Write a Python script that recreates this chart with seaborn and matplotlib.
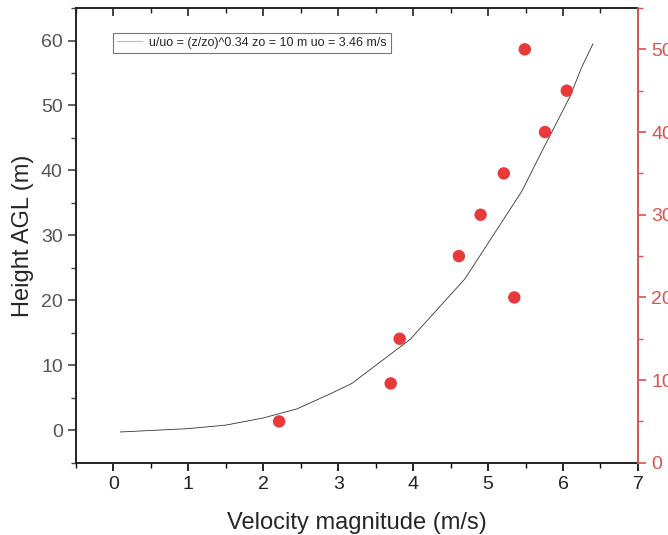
import matplotlib
matplotlib.use("Agg")
import matplotlib.pyplot as plt
import seaborn as sns
import pandas as pd
from matplotlib.ticker import MultipleLocator

# Power-law profile curve (velocity, height)
curve_velocity = [0.09, 1.00, 1.50, 2.00, 2.45, 2.89, 3.18, 3.96, 4.69, 5.00, 5.45, 5.69, 6.09, 6.25, 6.40]
curve_height = [-0.26, 0.26, 0.80, 1.90, 3.30, 5.60, 7.20, 14.0, 23.3, 28.8, 36.8, 42.3, 51.3, 55.9, 59.5]

# Measured points (right axis)
meas_velocity = [2.21, 3.70, 3.82, 5.35, 4.61, 4.90, 5.21, 5.76, 6.05, 5.49]
meas_height = [5, 9.6, 15, 20, 25, 30, 35, 40, 45, 50]

legend_label = "u/uo = (z/zo)^0.34 zo = 10 m uo = 3.46 m/s"

sns.set_style("white")
plt.rcParams['font.family'] = ['Liberation Sans', 'DejaVu Sans']

red = "#e8393b"
red_axis = "#d9534f"
tick_gray = "#555555"

fig = plt.figure(figsize=(6.68, 5.35), dpi=100)
ax = fig.add_axes([0.1138, 0.135, 0.8412, 0.85])

df_curve = pd.DataFrame({"v": curve_velocity, "h": curve_height})
sns.lineplot(data=df_curve, x="v", y="h", ax=ax, color="#333333", linewidth=0.6,
             sort=False, label=legend_label)

ax2 = ax.twinx()
df_meas = pd.DataFrame({"v": meas_velocity, "h": meas_height})
sns.scatterplot(data=df_meas, x="v", y="h", ax=ax2, color=red, s=80, edgecolor="none", legend=False)

ax.set_xlim(-0.5, 7)
ax.set_ylim(-5, 65)
ax2.set_ylim(0, 55)

ax.xaxis.set_major_locator(MultipleLocator(1))
ax.xaxis.set_minor_locator(MultipleLocator(0.5))
ax.yaxis.set_major_locator(MultipleLocator(10))
ax.yaxis.set_minor_locator(MultipleLocator(5))
ax2.yaxis.set_major_locator(MultipleLocator(10))
ax2.yaxis.set_minor_locator(MultipleLocator(5))

ax.set_xlabel("Velocity magnitude (m/s)", fontsize=17, labelpad=14)
ax.set_ylabel("Height AGL (m)", fontsize=17, labelpad=5)
ax2.set_ylabel("")

ax.tick_params(axis="x", which="both", bottom=True, top=False, direction="out", colors="black",
               labelcolor="#222222", labelsize=14)
ax.tick_params(axis="x", which="major", length=6, width=1.2)
ax.tick_params(axis="x", which="minor", length=3.5, width=1.0)
ax.tick_params(axis="y", which="both", left=True, direction="out", colors="#444444",
               labelcolor=tick_gray, labelsize=14)
ax.tick_params(axis="y", which="major", length=6, width=1.2)
ax.tick_params(axis="y", which="minor", length=3.5, width=1.0)

ax2.tick_params(axis="y", which="both", right=True, direction="out", colors=red_axis,
                labelcolor=red_axis, labelsize=14)
ax2.tick_params(axis="y", which="major", length=6, width=1.2)
ax2.tick_params(axis="y", which="minor", length=3.5, width=1.0)

for sp in ["left", "bottom", "top"]:
    ax.spines[sp].set_color("#222222")
    ax.spines[sp].set_linewidth(1.4)
ax.spines["right"].set_visible(False)
for sp in ["left", "bottom", "top"]:
    ax2.spines[sp].set_visible(False)
ax2.spines["right"].set_color(red_axis)
ax2.spines["right"].set_linewidth(1.4)

# top ticks inward
secx = ax.secondary_xaxis("top")
secx.xaxis.set_major_locator(MultipleLocator(1))
secx.xaxis.set_minor_locator(MultipleLocator(0.5))
secx.tick_params(axis="x", which="both", direction="in", labeltop=False, colors="#222222")
secx.tick_params(axis="x", which="major", length=6, width=1.2)
secx.tick_params(axis="x", which="minor", length=3.5, width=1.0)
secx.spines["top"].set_visible(False)

leg = ax.legend(loc="upper left", bbox_to_anchor=(0.066, 0.945), fontsize=9, frameon=True,
                fancybox=False, edgecolor="#555555", handlelength=2.0, borderpad=0.3,
                handletextpad=0.6, borderaxespad=0)
leg.get_frame().set_linewidth(0.8)
for line in leg.get_lines():
    line.set_color("#bbbbbb")
    line.set_linewidth(0.8)

fig.savefig("out.png", dpi=100)
